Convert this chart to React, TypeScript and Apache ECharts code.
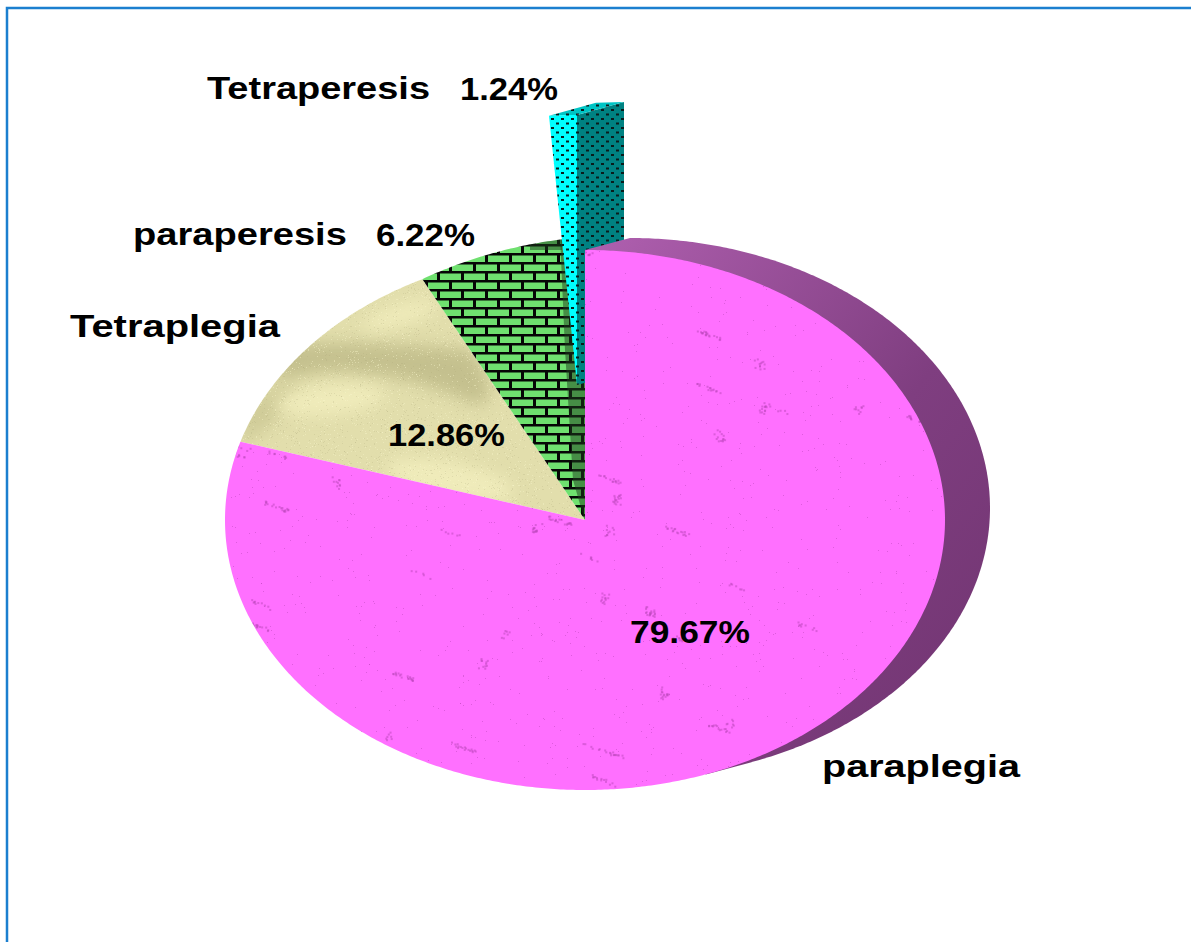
import React, { useEffect, useRef } from "react";
import * as echarts from "echarts";

const categories = ["paraplegia", "Tetraplegia", "paraperesis", "Tetraperesis"];
const values = [79.67, 12.86, 6.22, 1.24];

const W = 1191;
const H = 942;
const CX = 585;
const CY = 520;
const RX = 360;
const RY = 270;
const DEPTH = [47, -13];
const WALL_DEPTH = [45, -12];
const EXPLODE = [-8, -135];
const GREEN_LIFT = 13;
const FONT = "bold 31px 'Liberation Sans', Arial, sans-serif";

// text anchor per label: [left, centre y, width]
const nameBoxes = [
  [822, 767, 198],
  [70, 327, 210],
  [133, 234, 214],
  [207, 88, 223],
];
const valueBoxes = [
  [630, 632, 120],
  [388, 435, 117],
  [376, 235, 99],
  [460, 89, 98],
];

function lcg(seed: number) {
  let s = seed;
  return () => {
    s = (s * 1664525 + 1013904223) % 4294967296;
    return s / 4294967296;
  };
}

function canvas(w: number, h: number) {
  const c = document.createElement("canvas");
  c.width = w;
  c.height = h;
  return c;
}

function pattern(c: HTMLCanvasElement) {
  return { image: c, repeat: "repeat", imageWidth: c.width, imageHeight: c.height };
}

function pinkTexture() {
  const c = canvas(W, H);
  const g = c.getContext("2d")!;
  g.fillStyle = "#ff70ff";
  g.fillRect(0, 0, W, H);
  const r = lcg(17);
  g.fillStyle = "rgba(190,70,190,0.5)";
  for (let i = 0; i < 3800; i++) {
    g.fillRect(Math.round(r() * W), Math.round(r() * H), 1, 1);
  }
  for (let i = 0; i < 190; i++) {
    const x = r() * W;
    const y = r() * H;
    g.fillStyle = "rgba(185,70,185,0.5)";
    const n = 4 + Math.floor(r() * 16);
    const wide = r() > 0.5;
    for (let k = 0; k < n; k++) {
      const dx = wide ? (r() - 0.5) * 24 : (r() - 0.5) * 10;
      const dy = wide ? (r() - 0.5) * 4 + dx * 0.35 : (r() - 0.5) * 12;
      g.fillRect(x + dx, y + dy, 2, 2);
    }
  }
  return c;
}

function tanTexture() {
  const c = canvas(W, H);
  const g = c.getContext("2d")!;
  g.fillStyle = "#e2deac";
  g.fillRect(0, 0, W, H);
  g.filter = "blur(8px)";
  g.fillStyle = "#c4c08e";
  g.beginPath();
  g.moveTo(285, 345);
  g.bezierCurveTo(340, 340, 420, 345, 470, 350);
  g.bezierCurveTo(490, 375, 495, 400, 480, 405);
  g.bezierCurveTo(440, 390, 400, 375, 370, 375);
  g.bezierCurveTo(340, 368, 300, 372, 275, 385);
  g.closePath();
  g.fill();
  g.fillStyle = "#cfcb98";
  g.beginPath();
  g.moveTo(245, 410);
  g.bezierCurveTo(270, 385, 290, 380, 300, 388);
  g.bezierCurveTo(285, 410, 270, 430, 240, 445);
  g.closePath();
  g.fill();
  g.fillStyle = "#efebba";
  g.beginPath();
  g.ellipse(330, 400, 55, 15, -0.1, 0, Math.PI * 2);
  g.fill();
  g.beginPath();
  g.ellipse(450, 480, 65, 18, 0.2, 0, Math.PI * 2);
  g.fill();
  g.beginPath();
  g.ellipse(400, 315, 40, 10, -0.3, 0, Math.PI * 2);
  g.fill();
  g.filter = "none";
  const r = lcg(5);
  for (let i = 0; i < 7000; i++) {
    g.fillStyle = r() > 0.5 ? "rgba(250,248,205,0.4)" : "rgba(170,165,120,0.22)";
    g.fillRect(220 + Math.round(r() * 370), 270 + Math.round(r() * 260), 1, 1);
  }
  return c;
}

function brickTexture() {
  const c = canvas(W, H);
  const g = c.getContext("2d")!;
  g.fillStyle = "#6fe06f";
  g.fillRect(0, 0, W, H);
  g.fillStyle = "#060606";
  for (let row = 0; row * 9 < H; row++) {
    const y = row * 9 + 1;
    g.fillRect(0, y, W, 2.5);
    const off = row % 2 ? 12 : 0;
    for (let x = off - 24 + 5; x < W; x += 24) {
      g.fillRect(x, y, 3, 9);
    }
  }
  // the shadow under the exploded slice and along the top of the wedge
  g.fillStyle = "rgba(30,60,30,0.5)";
  g.beginPath();
  g.moveTo(586, 525);
  g.lineTo(573, 480);
  g.lineTo(565, 350);
  g.lineTo(560, 235);
  g.lineTo(590, 235);
  g.closePath();
  g.fill();
  g.fillRect(530, 235, 32, 15);
  return c;
}

function dotTexture(base: string) {
  const c = canvas(10, 9);
  const g = c.getContext("2d")!;
  g.fillStyle = base;
  g.fillRect(0, 0, 10, 9);
  g.fillStyle = "#0a1c1c";
  g.fillRect(1, 1, 3, 2);
  g.fillRect(6, 5.5, 3, 2);
  return c;
}

function pt(cx: number, cy: number, theta: number) {
  return [cx + RX * Math.sin(theta), cy - RY * Math.cos(theta)];
}

function arcPoints(cx: number, cy: number, a: number, b: number) {
  const steps = Math.max(2, Math.ceil(((b - a) / (Math.PI * 2)) * 720));
  const out: number[][] = [];
  for (let i = 0; i <= steps; i++) out.push(pt(cx, cy, a + ((b - a) * i) / steps));
  return out;
}

function slicePoints(cx: number, cy: number, a: number, b: number) {
  return [[cx, cy], ...arcPoints(cx, cy, a, b)];
}

function textWidth(text: string) {
  const g = canvas(4, 4).getContext("2d")!;
  g.font = FONT;
  return g.measureText(text).width;
}

function label(text: string, box: number[]) {
  return {
    type: "text",
    x: box[0],
    y: box[1],
    scaleX: box[2] / textWidth(text),
    z: 10,
    style: {
      text,
      font: FONT,
      fill: "#000000",
      textAlign: "left",
      textVerticalAlign: "middle",
    },
  };
}

export default function App() {
  const ref = useRef<HTMLDivElement>(null);
  useEffect(() => {
    const chart = echarts.init(ref.current!, undefined, { renderer: "svg" });
    const total = values.reduce((a, b) => a + b, 0);
    const fills = [
      pattern(pinkTexture()),
      pattern(tanTexture()),
      pattern(brickTexture()),
      pattern(dotTexture("#00ffff")),
    ];
    const teal = pattern(dotTexture("#008282"));
    const rim = pattern(dotTexture("#00c4c4"));
    const wallFill = new echarts.graphic.LinearGradient(0, 0, 1, 1, [
      { offset: 0, color: "#b060b0" },
      { offset: 0.55, color: "#7f3e80" },
      { offset: 1, color: "#703470" },
    ]);

    const renderItem = (params: any, api: any) => {
      const i = params.dataIndex;
      let start = 0;
      for (let k = 0; k < i; k++) start += values[k];
      const a = (start / total) * Math.PI * 2;
      const b = ((start + api.value(0)) / total) * Math.PI * 2;
      const children: any[] = [];
      if (i === 0) {
        // side wall of the big slice, up to the silhouette tangent
        const end = Math.PI + Math.atan((WALL_DEPTH[1] / WALL_DEPTH[0]) * (RX / RY));
        children.push({
          type: "polygon",
          z2: 3,
          shape: {
            points: [
              pt(CX, CY, 0),
              ...arcPoints(CX + WALL_DEPTH[0], CY + WALL_DEPTH[1], 0, end),
              pt(CX, CY, end),
            ],
          },
          style: { fill: wallFill },
        });
      }
      if (i === 2) {
        // the green wedge also fills the gap left by the exploded slice
        const rimPts = arcPoints(CX, CY, a, Math.PI * 2).map((p, k, all) => [
          p[0],
          p[1] - (GREEN_LIFT * k) / (all.length - 1),
        ]);
        children.push({
          type: "polygon",
          z2: 1,
          shape: { points: [[CX, CY], ...rimPts] },
          style: { fill: fills[i] },
        });
        return { type: "group", children };
      }
      const ox = i === 3 ? EXPLODE[0] : 0;
      const oy = i === 3 ? EXPLODE[1] : 0;
      if (i === 3) {
        const p = pt(CX + ox, CY + oy, a);
        const q = pt(CX + ox, CY + oy, b);
        const ax = CX + ox;
        const ay = CY + oy;
        const [dx, dy] = DEPTH;
        children.push({
          type: "polygon",
          z2: 2,
          shape: { points: [[ax, ay], q, [q[0] + dx, q[1] + dy], [ax + dx, ay + dy]] },
          style: { fill: teal },
        });
        children.push({
          type: "polygon",
          z2: 2,
          shape: { points: [p, q, [q[0] + dx, q[1] + dy], [p[0] + dx, p[1] + dy]] },
          style: { fill: rim },
        });
      }
      children.push({
        type: "polygon",
        z2: i === 0 ? 4 : i === 3 ? 2 : 1,
        shape: { points: slicePoints(CX + ox, CY + oy, a, b) },
        style: { fill: fills[i] },
      });
      return { type: "group", children };
    };

    chart.setOption({
      animation: false,
      backgroundColor: "#ffffff",
      series: [
        {
          type: "custom",
          coordinateSystem: "none",
          silent: true,
          clip: false,
          renderItem,
          data: values.map((v, i) => ({ name: categories[i], value: [v] })),
        },
      ],
      graphic: [
        {
          type: "polyline",
          z: 9,
          shape: { points: [[7, H], [7, 8], [W, 8]] },
          style: { stroke: "#1b7fcf", lineWidth: 2.5, fill: "none" },
        },
        ...categories.map((c, i) => label(c, nameBoxes[i])),
        ...values.map((v, i) => label(`${v.toFixed(2)}%`, valueBoxes[i])),
      ],
    });
    return () => chart.dispose();
  }, []);
  return (
    <div
      ref={ref}
      style={{ position: "absolute", left: 0, top: 0, width: W, height: H }}
    />
  );
}
